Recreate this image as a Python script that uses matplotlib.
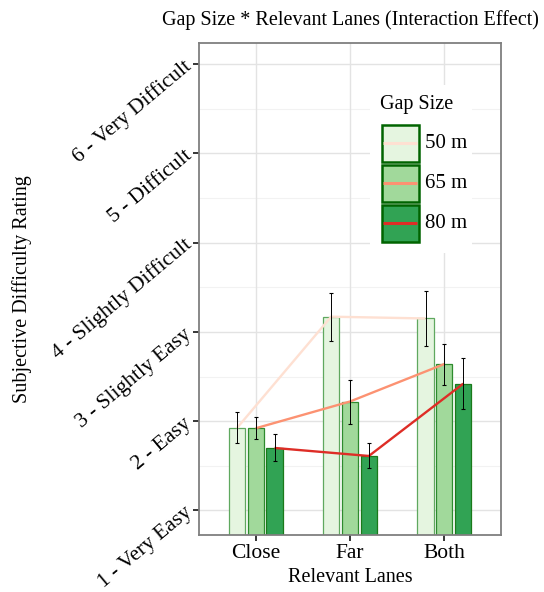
import matplotlib
matplotlib.use("Agg")
import matplotlib.pyplot as plt
import numpy as np
from matplotlib.patches import Rectangle

plt.rcParams['font.family'] = ['Liberation Serif', 'DejaVu Serif']

categories = ["Close", "Far", "Both"]
gap_sizes = ["50 m", "65 m", "80 m"]
means_50 = [1.92, 3.17, 3.15]
means_65 = [1.92, 2.22, 2.64]
means_80 = [1.70, 1.61, 2.42]
lo_50 = [1.75, 2.90, 2.84]
hi_50 = [2.10, 3.44, 3.46]
lo_65 = [1.80, 1.97, 2.41]
hi_65 = [2.05, 2.46, 2.86]
lo_80 = [1.55, 1.47, 2.14]
hi_80 = [1.86, 1.76, 2.71]
ytick_labels = ["1 - Very Easy", "2 - Easy", "3 - Slightly Easy",
                "4 - Slightly Difficult", "5 - Difficult", "6 - Very Difficult"]

means = [means_50, means_65, means_80]
los = [lo_50, lo_65, lo_80]
his = [hi_50, hi_65, hi_80]
fills = ["#e5f5e0", "#a1d99b", "#31a354"]
edges = ["#5fa85f", "#2e8b2e", "#1a7a1a"]
line_cols = ["#fee0d2", "#fc9272", "#de2d26"]

W, H = 544, 592
fig = plt.figure(figsize=(W / 100, H / 100), dpi=100)
ax = fig.add_axes([199 / W, 1 - 535 / H, (501 - 199) / W, (535 - 43) / H])

x = np.arange(1, len(categories) + 1)
offsets = [-0.2, 0.0, 0.2]
bw = 0.17

ax.set_xlim(0.4, 3.6)
ax.set_ylim(0.725, 6.235)

# grid
for v in np.arange(1.5, 6.5, 1.0):
    ax.axhline(v, color="#f2f2f2", lw=0.8, zorder=0)
for v in range(1, 7):
    ax.axhline(v, color="#e3e3e3", lw=1.0, zorder=0)
for xv in x:
    ax.axvline(xv, color="#e3e3e3", lw=1.0, zorder=0)

for i in range(3):
    xs = x + offsets[i]
    ax.bar(xs, np.array(means[i]), width=bw, bottom=0, color=fills[i],
           edgecolor=edges[i], linewidth=0.9, zorder=2)

for i in range(3):
    xs = x + offsets[i]
    ax.plot(xs, means[i], color=line_cols[i], lw=1.7, zorder=3,
            solid_capstyle='butt')

for i in range(3):
    xs = x + offsets[i]
    m = np.array(means[i])
    lo = np.array(los[i])
    hi = np.array(his[i])
    ax.errorbar(xs, m, yerr=[m - lo, hi - m], fmt='none', ecolor='black',
                elinewidth=0.7, capsize=1.6, capthick=0.8, zorder=4)

for s in ax.spines.values():
    s.set_color("#7f7f7f")
    s.set_linewidth(1.3)

ax.set_xticks(x)
ax.set_xticklabels(categories, fontsize=15.5)
ax.set_yticks(range(1, 7))
ax.set_yticklabels(ytick_labels, fontsize=15.5)
ax.tick_params(axis='both', length=4.5, width=1.1, color='black')
ax.tick_params(axis='x', pad=2)
ax.tick_params(axis='y', pad=2.5)
for lab in ax.get_yticklabels():
    lab.set_rotation(40)
    lab.set_rotation_mode('anchor')
    lab.set_ha('right')
    lab.set_va('center')

fig.text(350 / W, 1 - 20 / H, "Gap Size * Relevant Lanes (Interaction Effect)",
         ha='center', va='center', fontsize=14.5)
fig.text(350 / W, 1 - 578 / H, "Relevant Lanes", ha='center', va='center',
         fontsize=14.5)
fig.text(22 / W, 1 - 289 / H, "Subjective Difficulty Rating", ha='center',
         va='center', rotation=90, fontsize=14.5)

# legend drawn in a pixel-coordinate overlay
lax = fig.add_axes([0, 0, 1, 1], zorder=10)
lax.set_xlim(0, W)
lax.set_ylim(H, 0)
lax.axis('off')
lax.patch.set_alpha(0)
lax.add_patch(Rectangle((370, 85), 102, 168, facecolor='white', edgecolor='none'))
lax.text(380.5, 105, "Gap Size", ha='left', va='center', fontsize=14.5)
key_top = 124
key_h = 40
for i, lab in enumerate(gap_sizes):
    y0 = key_top + i * key_h
    lax.add_patch(Rectangle((381.5, y0 + 0.5), 37, 37.5, facecolor=fills[i],
                            edgecolor="#006400", linewidth=1.8))
    yc = y0 + 19
    lax.plot([383, 417], [yc, yc], color=line_cols[i], lw=2.2,
             solid_capstyle='butt')
    lax.text(425, yc, lab, ha='left', va='center', fontsize=15)

fig.savefig("out.png", dpi=100)
